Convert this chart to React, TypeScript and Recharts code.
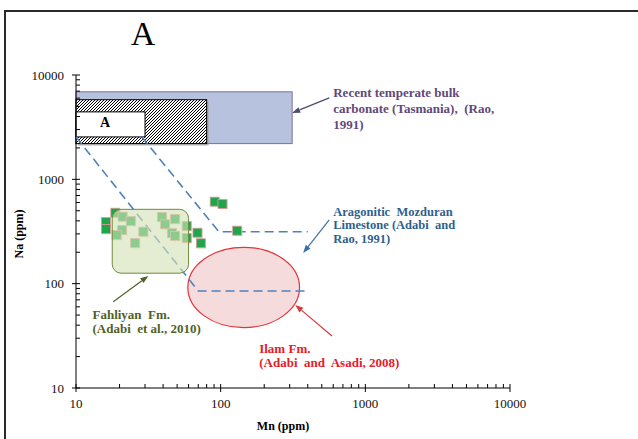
import React from 'react';
import { ScatterChart, Scatter, XAxis, YAxis, ReferenceArea, ReferenceLine, ReferenceDot } from 'recharts';

const SERIF = "'Liberation Serif', 'Times New Roman', Times, serif";

// axis ticks
const majorTicks = [10, 100, 1000, 10000];
const logTicks = [
  10, 20, 30, 40, 50, 60, 70, 80, 90,
  100, 200, 300, 400, 500, 600, 700, 800, 900,
  1000, 2000, 3000, 4000, 5000, 6000, 7000, 8000, 9000,
  10000,
];

// samples (Mn ppm, Na ppm)
const sampleMn = [16.1, 16.1, 18.7, 21.0, 23.9, 20.8, 19.1, 29.2, 25.6, 39.2, 41.3, 48.4, 46.0, 48.4, 58.2, 58.2, 69.1, 72.9, 90.9, 102.9, 130];
const sampleNa = [390, 334, 479, 439, 399, 327, 293, 315, 246, 436, 371, 417, 306, 287, 357, 274, 308, 244, 611, 581, 322];

// Aragonitic Mozduran Limestone envelope (dashed)
const mozLowerMn = [10, 70, 400];
const mozLowerNa = [2550, 85, 85];
const mozUpperMn = [28.5, 97, 400];
const mozUpperNa = [2550, 315, 315];

// fields [mn1, mn2, na1, na2]
const tasmaniaBox = [10, 312, 2200, 6900];
const hatchBox = [10, 80, 2200, 5800];
const whiteBox = [10, 30, 2550, 4430];
const fahliyanBox = [17.8, 60, 126, 516];
const ilamBox = [59.3, 351, 37.9, 223];

// annotations
const noteLines = [
  ['Recent temperate bulk', 'carbonate (Tasmania),  (Rao,', '1991)'],
  ['Aragonitic  Mozduran', 'Limestone (Adabi  and', 'Rao, 1991)'],
  ['Fahliyan  Fm.', '(Adabi  et al., 2010)'],
  ['Ilam Fm.', '(Adabi  and  Asadi, 2008)'],
];
const noteColors = ['#5f497a', '#2f5f8f', '#4f6228', '#e3202a'];
const arrowColors = ['#4e4a6e', '#3a70aa', '#4f6228', '#d63a3a'];
const noteMn = [600, 600, 13.0, 184.7];
const noteNa = [6170, 446, 45.6, 21.8];
const noteLineHeight = [16, 13.5, 14, 14];
const noteFontSize = [13, 12.5, 13, 13];
const arrowFromMn = [563, 563, 18.1, 588];
const arrowFromNa = [6030, 408, 67.2, 31.5];
const arrowToMn = [312, 372, 31.6, 328];
const arrowToNa = [4330, 197, 118.6, 62.5];

const samples = sampleMn.map((mn, i) => ({ mn, na: sampleNa[i] }));
const mozLower = mozLowerMn.map((mn, i) => ({ mn, na: mozLowerNa[i] }));
const mozUpper = mozUpperMn.map((mn, i) => ({ mn, na: mozUpperNa[i] }));

const XTick = (p: any) => {
  const { x, y, payload } = p;
  const v = payload.value;
  const major = majorTicks.includes(v);
  return (
    <g>
      <line x1={x} x2={x} y1={major ? y + 4 : y} y2={y - 4} stroke="#000" strokeWidth={1} />
      {major && (
        <text x={x} y={y + 20} textAnchor="middle" fontFamily={SERIF} fontSize={13} fill="#111">
          {v}
        </text>
      )}
    </g>
  );
};

const YTick = (p: any) => {
  const { x, y, payload } = p;
  const v = payload.value;
  const major = majorTicks.includes(v);
  return (
    <g>
      <line x1={major ? x - 4 : x} x2={x + 4} y1={y} y2={y} stroke="#000" strokeWidth={1} />
      {major && (
        <text x={x - 12} y={y + 4.5} textAnchor="end" fontFamily={SERIF} fontSize={13} fill="#111">
          {v}
        </text>
      )}
    </g>
  );
};

const squareShape = (p: any) => (
  <g>
    <rect x={p.cx - 3.5} y={p.cy - 3.5} width={9} height={9} fill="#9fd8ae" opacity={0.45} />
    <rect x={p.cx - 4.5} y={p.cy - 4.5} width={9} height={9} fill="#1fa64c" stroke="#e49a98" strokeWidth={0.8} />
  </g>
);

const emptyShape = () => <g />;

const arrowShape = (color: string) => (p: any) => {
  const { x1, y1, x2, y2 } = p;
  const ang = Math.atan2(y2 - y1, x2 - x1);
  const L = 8;
  const W = 3;
  const bx = x2 - L * Math.cos(ang);
  const by = y2 - L * Math.sin(ang);
  const px = -Math.sin(ang) * W;
  const py = Math.cos(ang) * W;
  return (
    <g>
      <line x1={x1} y1={y1} x2={bx} y2={by} stroke={color} strokeWidth={1.2} />
      <polygon points={`${x2},${y2} ${bx + px},${by + py} ${bx - px},${by - py}`} fill={color} />
    </g>
  );
};

const noteShape = (lines: string[], color: string, lh: number, fs: number) => (p: any) => (
  <text x={p.cx} y={p.cy} fill={color} fontFamily={SERIF} fontWeight="bold" fontSize={fs} style={{ whiteSpace: 'pre' }}>
    {lines.map((l, i) => (
      <tspan key={i} x={p.cx} dy={i === 0 ? 0 : lh}>
        {l}
      </tspan>
    ))}
  </text>
);

const boxShape = (fill: string, stroke: string, sw: number, shadow?: boolean) => (p: any) => (
  <g>
    {shadow && <rect x={p.x + 2} y={p.y + 2} width={p.width} height={p.height} fill="#9a9a9a" opacity={0.6} />}
    <rect x={p.x} y={p.y} width={p.width} height={p.height} fill={fill} stroke={stroke} strokeWidth={sw} />
  </g>
);

const roundShape = (p: any) => (
  <rect x={p.x} y={p.y} width={p.width} height={p.height} rx={9} ry={9} fill="#d3e2b6" fillOpacity={0.62} stroke="#6f8a3a" strokeWidth={1} />
);

const ellipseShape = (p: any) => (
  <ellipse
    cx={p.x + p.width / 2}
    cy={p.y + p.height / 2}
    rx={p.width / 2}
    ry={p.height / 2}
    fill="#f2cfd0"
    fillOpacity={0.75}
    stroke="#e2343a"
    strokeWidth={1.2}
  />
);

const aLabel = (p: any) => (
  <text x={p.cx} y={p.cy} textAnchor="middle" fontFamily={SERIF} fontWeight="bold" fontSize={14} fill="#000">
    A
  </text>
);

export default function App() {
  return (
    <div style={{ position: 'absolute', left: 0, top: 0, width: 638, height: 439, background: '#fff', overflow: 'hidden' }}>
      <svg width={0} height={0} style={{ position: 'absolute' }}>
        <defs>
          <pattern id="hatch" patternUnits="userSpaceOnUse" width="3" height="3">
            <rect width="3" height="3" fill="#fff" />
            <path d="M-1,1 l2,-2 M0,3 l3,-3 M2,4 l2,-2" stroke="#000" strokeWidth="1" />
          </pattern>
        </defs>
      </svg>
      <ScatterChart width={638} height={439} margin={{ top: 75, right: 128, bottom: 0, left: 0 }}>
        <XAxis
          type="number"
          dataKey="mn"
          scale="log"
          domain={[10, 10000]}
          ticks={logTicks}
          interval={0}
          allowDataOverflow
          tickSize={0}
          tickMargin={0}
          tickLine={false}
          tick={XTick}
          height={51}
          axisLine={{ stroke: '#000', strokeWidth: 1 }}
        />
        <YAxis
          type="number"
          dataKey="na"
          scale="log"
          domain={[10, 10000]}
          ticks={logTicks}
          interval={0}
          allowDataOverflow
          tickSize={0}
          tickMargin={0}
          tickLine={false}
          tick={YTick}
          width={76}
          axisLine={{ stroke: '#000', strokeWidth: 1 }}
        />
        <ReferenceArea x1={tasmaniaBox[0]} x2={tasmaniaBox[1]} y1={tasmaniaBox[2]} y2={tasmaniaBox[3]} shape={boxShape('#b6c2de', '#7d6f9c', 1)} />
        <ReferenceArea x1={hatchBox[0]} x2={hatchBox[1]} y1={hatchBox[2]} y2={hatchBox[3]} shape={boxShape('url(#hatch)', '#000', 1, true)} />
        <ReferenceArea x1={whiteBox[0]} x2={whiteBox[1]} y1={whiteBox[2]} y2={whiteBox[3]} shape={boxShape('#fff', '#000', 1)} />
        <ReferenceArea x1={ilamBox[0]} x2={ilamBox[1]} y1={ilamBox[2]} y2={ilamBox[3]} shape={ellipseShape} />
        <Scatter data={mozLower} isAnimationActive={false} shape={emptyShape} line={{ stroke: '#4f81bd', strokeWidth: 1.6, strokeDasharray: '9 5' }} />
        <Scatter data={mozUpper} isAnimationActive={false} shape={emptyShape} line={{ stroke: '#4f81bd', strokeWidth: 1.6, strokeDasharray: '9 5' }} />
        <Scatter data={samples} isAnimationActive={false} shape={squareShape} />
        <ReferenceArea
          x1={fahliyanBox[0]}
          x2={fahliyanBox[1]}
          y1={fahliyanBox[2]}
          y2={fahliyanBox[3]}
          shape={roundShape}
          {...({ zIndex: 700 } as any)}
        />
        <ReferenceDot x={15.9} y={3145} r={0} shape={aLabel} {...({ zIndex: 800 } as any)} />
        {noteLines.map((lines, i) => (
          <ReferenceLine
            key={'a' + i}
            segment={[
              { x: arrowFromMn[i], y: arrowFromNa[i] },
              { x: arrowToMn[i], y: arrowToNa[i] },
            ]}
            shape={arrowShape(arrowColors[i])}
            {...({ zIndex: 800 } as any)}
          />
        ))}
        {noteLines.map((lines, i) => (
          <ReferenceDot
            key={'n' + i}
            x={noteMn[i]}
            y={noteNa[i]}
            r={0}
            shape={noteShape(lines, noteColors[i], noteLineHeight[i], noteFontSize[i])}
            {...({ zIndex: 800 } as any)}
          />
        ))}
      </ScatterChart>
      <svg width={638} height={439} style={{ position: 'absolute', left: 0, top: 0, pointerEvents: 'none' }}>
        <line x1={4} y1={11} x2={638} y2={11} stroke="#2a2a2a" strokeWidth={2} />
        <line x1={5} y1={10} x2={5} y2={439} stroke="#2a2a2a" strokeWidth={2} />
        <text x={143} y={45} textAnchor="middle" fontFamily={SERIF} fontSize={34} fill="#000">
          A
        </text>
        <text x={283} y={430} textAnchor="middle" fontFamily={SERIF} fontWeight="bold" fontSize={12} fill="#000">
          Mn (ppm)
        </text>
        <text x={23} y={234} textAnchor="middle" fontFamily={SERIF} fontWeight="bold" fontSize={12} fill="#000" transform="rotate(-90, 23, 234)">
          Na (ppm)
        </text>
      </svg>
    </div>
  );
}
